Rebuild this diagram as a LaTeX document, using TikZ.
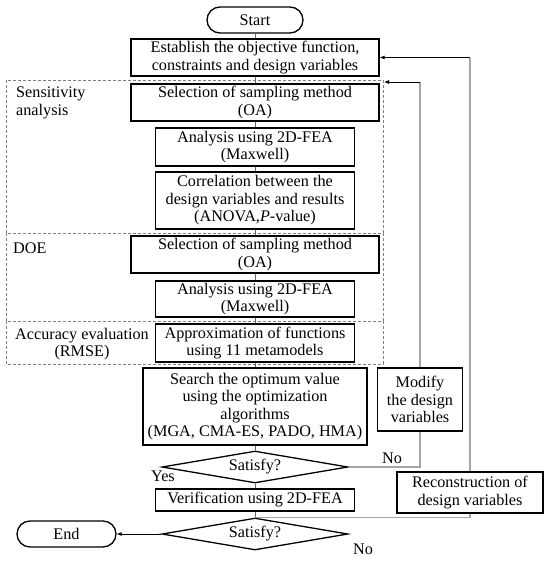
\documentclass[tikz,border=0pt]{standalone}
\usepackage{fontspec}
\setmainfont{Liberation Serif}
\usetikzlibrary{shapes.geometric, arrows.meta}

\begin{document}
\begin{tikzpicture}[x=1pt, y=-1pt, font=\fontsize{16.2}{17.5}\selectfont,
    procbox/.style={draw, line width=1.3pt, align=center, inner sep=0pt, fill=white},
    termbox/.style={draw, line width=1.3pt, rounded corners=13pt, inner sep=0pt,
        minimum height=26pt},
    decbox/.style={draw, diamond, line width=1.3pt, aspect=5.6, inner sep=0pt,
        minimum width=186pt, minimum height=32pt},
    lbl/.style={inner sep=0pt},
    flow/.style={draw=gray!80!black, line width=0.6pt},
    loopline/.style={draw=gray!70, line width=1.4pt},
    back/.style={line width=0.8pt, -{Latex[length=5pt, width=4pt]}},
    group/.style={draw=gray, line width=0.9pt, dash pattern=on 3pt off 2pt}]
    \useasboundingbox (0,0) rectangle (550,562);
    \draw[group] (6,80) rectangle (383,233);
    \draw[group] (6,233) rectangle (383,321);
    \draw[group] (6,321) rectangle (383,364);
    \coordinate (sensin) at (384,82);
    \node[termbox, minimum width=96pt] (start) at (255,20) {Start};
    \node[procbox, minimum width=248pt, minimum height=37pt] (estab) at (255,57.5)
        {Establish the objective function,\\constraints and design variables};
    \node[procbox, minimum width=248pt, minimum height=37pt] (sel1) at (255,102.5)
        {Selection of sampling method\\(OA)};
    \node[procbox, minimum width=199pt, minimum height=38pt] (ana1) at (255,147)
        {Analysis using 2D-FEA\\(Maxwell)};
    \node[procbox, minimum width=199pt, minimum height=57pt] (corr) at (255,200.5)
        {Correlation between the\\design variables and results\\(ANOVA,\textit{P}-value)};
    \node[procbox, minimum width=248pt, minimum height=37pt] (sel2) at (255,254.5)
        {Selection of sampling method\\(OA)};
    \node[procbox, minimum width=199pt, minimum height=36pt] (ana2) at (255,299)
        {Analysis using 2D-FEA\\(Maxwell)};
    \node[procbox, minimum width=199pt, minimum height=38pt] (approx) at (255,343)
        {Approximation of functions\\using 11 metamodels};
    \node[procbox, minimum width=224pt, minimum height=77pt] (search) at (255,406.5)
        {Search the optimum value\\using the optimization\\algorithms\\(MGA, CMA-ES, PADO, HMA)};
    \node[procbox, minimum width=85pt, minimum height=63pt] (modify) at (420,399.5)
        {Modify\\the design\\variables};
    \node[decbox] (dec1) at (255,467) {Satisfy?};
    \node[procbox, minimum width=199pt, minimum height=22pt] (verif) at (255,500)
        {Verification using 2D-FEA};
    \node[decbox] (dec2) at (255,534) {Satisfy?};
    \node[procbox, minimum width=146pt, minimum height=41pt] (recon) at (470,492.5)
        {Reconstruction of\\design variables};
    \node[termbox, minimum width=99pt] (end) at (66.5,534) {End};
    \node[lbl, anchor=west, align=left] (senslbl) at (16,103) {Sensitivity\\analysis};
    \node[lbl, anchor=west] (doelbl) at (13,248) {DOE};
    \node[lbl, align=center] (acclbl) at (82,344) {Accuracy evaluation\\(RMSE)};
    \node[lbl] (yes) at (163,476) {Yes};
    \node[lbl] (no1) at (392,458) {No};
    \node[lbl] (no2) at (363,549) {No};
    \draw[flow] (start) -- (estab);
    \draw[flow] (estab) -- (sel1);
    \draw[flow] (sel1) -- (ana1);
    \draw[flow] (ana1) -- (corr);
    \draw[flow] (corr) -- (sel2);
    \draw[flow] (sel2) -- (ana2);
    \draw[flow] (ana2) -- (approx);
    \draw[flow] (approx) -- (search);
    \draw[flow] (search) -- (dec1);
    \draw[flow] (dec1) -- (verif);
    \draw[flow] (verif) -- (dec2);
    \draw[back] (dec2.west) -- (end.east);
    \draw[loopline] (dec1.east) -| (modify.south);
    \draw[loopline] (modify.north) -- (modify.north |- sensin) coordinate (k1);
    \draw[back] (k1) -- (sensin);
    \draw[loopline] (dec2.north) -| (recon.south);
    \draw[loopline] (recon.north) -- (recon.north |- estab.east) coordinate (k2);
    \draw[back] (k2) -- (estab.east);
\end{tikzpicture}
\end{document}
